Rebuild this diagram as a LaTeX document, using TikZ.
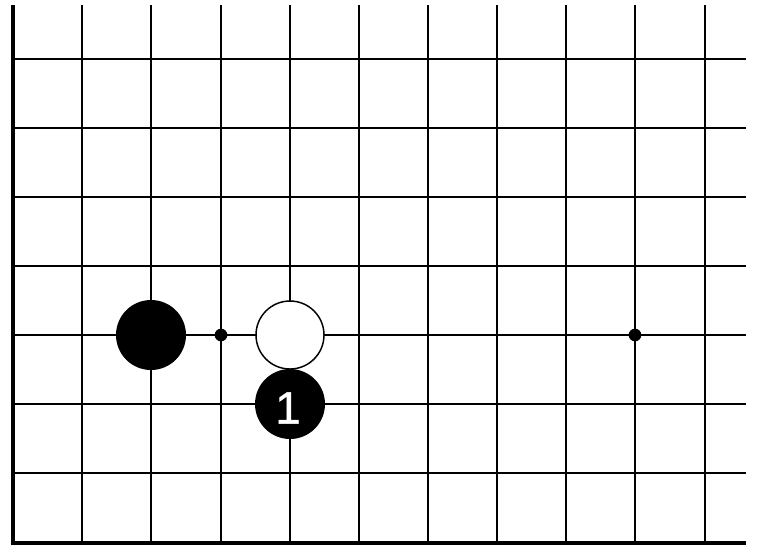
\documentclass[tikz,border=0pt]{standalone}
\usepackage{fontspec}
\setsansfont{Liberation Sans}
\begin{document}
\begin{tikzpicture}[x=0.75pt,y=-0.75pt,
  gridline/.style={line width=1.6pt,black},
  edgeline/.style={line width=3.2pt,black},
  blackstone/.style={circle,fill=black,minimum size=52.5pt,inner sep=0pt},
  whitestone/.style={circle,fill=white,draw=black,line width=1.1pt,minimum size=51pt,inner sep=0pt},
  starpt/.style={circle,fill=black,minimum size=9.5pt,inner sep=0pt},
  stonenum/.style={text=white,inner sep=0pt,font=\sffamily\fontsize{34}{34}\selectfont}
]
\useasboundingbox (0,0) rectangle (763,558);
% vertical lines
\foreach \x in {82,151,221,290,359,428,497,566,635,705}
  \draw[gridline] (\x,5) -- (\x,543);
% horizontal lines
\foreach \y in {59,128,197,266,335,404,473}
  \draw[gridline] (13,\y) -- (746,\y);
% edges
\draw[edgeline] (13,5) -- (13,543);
\draw[edgeline] (11.4,543) -- (746,543);
% star points
\node[starpt] (s1) at (221,335) {};
\node[starpt] (s2) at (635,335) {};
% stones
\node[blackstone] (b1) at (151,335) {};
\node[whitestone] (w1) at (290,335) {};
\node[blackstone] (b2) at (290,404) {};
\node[stonenum] (n1) at ([xshift=-1.5,yshift=-3]b2) {\addfontfeature{FakeBold=1.2}1};
\end{tikzpicture}
\end{document}
